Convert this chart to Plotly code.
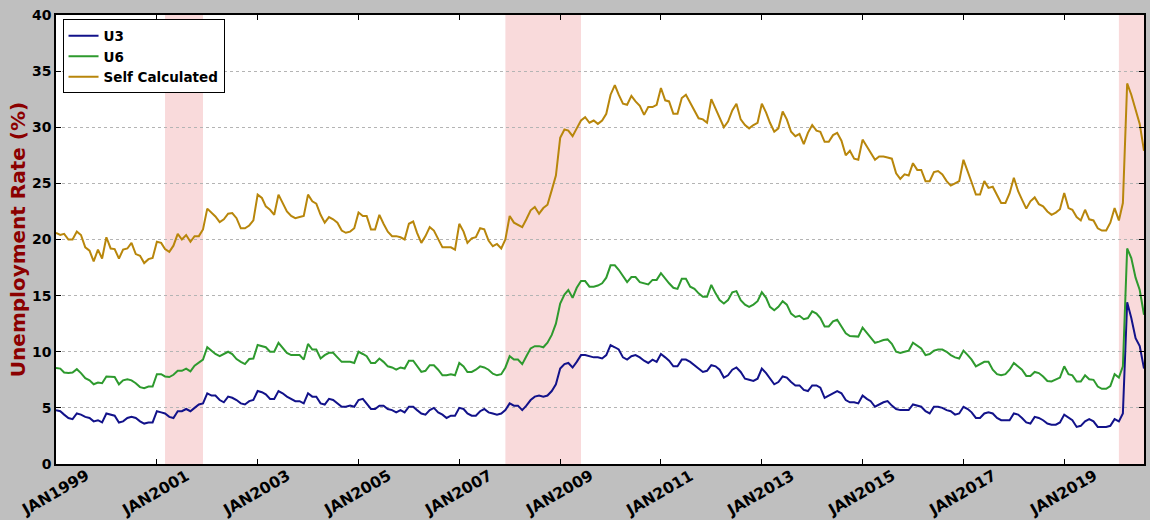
import pandas as pd
import plotly.graph_objects as go

# Monthly data, Jan 1999 - Aug 2020
start_month = "1999-01-01"
n_months = 260

u3 = [
    4.8, 4.7, 4.4, 4.1, 4.0, 4.5, 4.4, 4.2, 4.1, 3.8, 3.9, 3.7,
    4.5, 4.4, 4.3, 3.7, 3.8, 4.1, 4.2, 4.1, 3.8, 3.6, 3.7, 3.7,
    4.7, 4.6, 4.5, 4.2, 4.1, 4.7, 4.7, 4.9, 4.7, 5.0, 5.3, 5.4,
    6.3, 6.1, 6.1, 5.7, 5.5, 6.0, 5.9, 5.7, 5.4, 5.3, 5.6, 5.7,
    6.5, 6.4, 6.2, 5.8, 5.8, 6.5, 6.3, 6.0, 5.8, 5.6, 5.6, 5.4,
    6.3, 6.0, 6.0, 5.4, 5.3, 5.8, 5.7, 5.4, 5.1, 5.1, 5.2, 5.1,
    5.7, 5.8, 5.4, 4.9, 4.9, 5.2, 5.2, 4.9, 4.8, 4.6, 4.8, 4.6,
    5.1, 5.1, 4.8, 4.5, 4.4, 4.8, 5.0, 4.6, 4.4, 4.1, 4.3, 4.3,
    5.0, 4.9, 4.5, 4.3, 4.3, 4.7, 4.9, 4.6, 4.5, 4.4, 4.5, 4.8,
    5.4, 5.2, 5.2, 4.8, 5.2, 5.7, 6.0, 6.1, 6.0, 6.1, 6.5, 7.1,
    8.5, 8.9, 9.0, 8.6, 9.1, 9.7, 9.7, 9.6, 9.5, 9.5, 9.4, 9.7,
    10.6, 10.4, 10.2, 9.5, 9.3, 9.6, 9.7, 9.5, 9.2, 9.0, 9.3, 9.1,
    9.8, 9.5, 9.2, 8.7, 8.7, 9.3, 9.3, 9.1, 8.8, 8.5, 8.2, 8.3,
    8.8, 8.7, 8.4, 7.7, 7.9, 8.4, 8.6, 8.2, 7.6, 7.5, 7.4, 7.6,
    8.5, 8.1, 7.6, 7.1, 7.3, 7.8, 7.7, 7.3, 7.0, 7.0, 6.6, 6.5,
    7.0, 7.0, 6.8, 5.9, 6.1, 6.3, 6.5, 6.3, 5.7, 5.5, 5.5, 5.4,
    6.1, 5.8, 5.6, 5.1, 5.3, 5.5, 5.6, 5.2, 4.9, 4.8, 4.8, 4.8,
    5.3, 5.2, 5.1, 4.7, 4.5, 5.1, 5.1, 5.0, 4.8, 4.7, 4.4, 4.5,
    5.1, 4.9, 4.6, 4.1, 4.1, 4.5, 4.6, 4.5, 4.1, 3.9, 3.9, 3.9,
    4.5, 4.4, 4.1, 3.7, 3.6, 4.2, 4.1, 3.9, 3.6, 3.5, 3.5, 3.7,
    4.4, 4.1, 3.9, 3.3, 3.4, 3.8, 4.0, 3.8, 3.3, 3.3, 3.3, 3.4,
    4.0, 3.8, 4.5, 14.4, 13.0, 11.2, 10.5, 8.5,
]

u6 = [
    8.55, 8.5, 8.15, 8.1, 8.15, 8.45, 8.1, 7.65, 7.45, 7.1, 7.25, 7.2,
    7.8, 7.75, 7.75, 7.1, 7.45, 7.55, 7.45, 7.2, 6.85, 6.75, 6.9, 6.9,
    8.0, 8.0, 7.8, 7.75, 7.95, 8.3, 8.3, 8.5, 8.25, 8.75, 9.05, 9.3,
    10.4, 10.1, 9.8, 9.6, 9.8, 10.0, 9.8, 9.35, 9.1, 8.9, 9.35, 9.4,
    10.6, 10.5, 10.4, 10.0, 10.0, 10.8, 10.4, 9.9, 9.7, 9.7, 9.7, 9.3,
    10.7, 10.2, 10.2, 9.4, 9.7, 9.9, 9.9, 9.5, 9.1, 9.1, 9.1, 9.0,
    10.0, 9.8, 9.6, 9.0, 9.0, 9.4, 9.1, 8.7, 8.6, 8.4, 8.6, 8.5,
    9.2, 9.2, 8.7, 8.2, 8.3, 8.8, 8.8, 8.4, 7.9, 7.9, 8.0, 7.9,
    9.0, 8.7, 8.2, 8.2, 8.4, 8.7, 8.6, 8.4, 8.05, 7.9, 8.0, 8.6,
    9.6, 9.3, 9.3, 8.9, 9.6, 10.3, 10.5, 10.5, 10.4, 10.8, 11.5, 12.5,
    14.3, 15.1, 15.5, 14.8, 15.7, 16.3, 16.3, 15.8, 15.8, 15.9, 16.1, 16.6,
    17.7, 17.7, 17.3, 16.7, 16.2, 16.65, 16.65, 16.2, 16.1, 16.0, 16.4, 16.4,
    17.0, 16.5, 16.1, 15.7, 15.6, 16.5, 16.5, 15.8, 15.6, 15.2, 14.9, 14.9,
    15.95, 15.2, 14.6, 14.3, 14.6, 15.3, 15.4, 14.6, 14.2, 14.0, 14.2, 14.5,
    15.3, 14.8, 14.0, 13.7, 14.0, 14.5, 14.2, 13.4, 13.1, 13.2, 12.9, 13.0,
    13.6, 13.4, 13.0, 12.25, 12.25, 12.7, 12.85, 12.25, 11.65, 11.4, 11.4, 11.35,
    12.15, 11.7, 11.2, 10.8, 10.9, 11.05, 11.1, 10.7, 10.0, 9.9, 10.0, 10.1,
    10.8, 10.5, 10.3, 9.7, 9.8, 10.1, 10.2, 10.2, 10.0, 9.7, 9.5, 9.4,
    10.1, 9.7, 9.3, 8.7, 8.9, 9.1, 9.1, 8.4, 8.0, 7.9, 8.0, 8.4,
    9.0, 8.7, 8.4, 7.85, 7.85, 8.2, 8.1, 7.8, 7.4, 7.35, 7.55, 7.7,
    8.7, 8.0, 7.9, 7.35, 7.35, 7.9, 7.55, 7.5, 6.9, 6.7, 6.7, 6.95,
    8.0, 7.7, 8.7, 19.2, 18.35, 16.6, 15.5, 13.3,
]

self_calc = [
    20.6, 20.4, 20.5, 20.0, 20.0, 20.7, 20.4, 19.3, 19.0, 18.05, 19.1, 18.3,
    20.2, 19.2, 19.15, 18.3, 19.1, 19.2, 19.7, 18.7, 18.55, 17.9, 18.25, 18.35,
    19.8, 19.7, 19.15, 18.9, 19.45, 20.5, 20.0, 20.4, 19.8, 20.3, 20.3, 20.9,
    22.75, 22.4, 22.05, 21.55, 21.8, 22.3, 22.35, 21.9, 21.0, 21.0, 21.25, 21.7,
    24.0, 23.7, 22.95, 22.65, 22.2, 24.0, 23.3, 22.5, 22.1, 21.9, 22.0, 22.1,
    24.0, 23.4, 23.2, 22.2, 21.5, 22.0, 21.8, 21.5, 20.8, 20.6, 20.7, 21.0,
    22.4, 22.1, 22.1, 20.9, 20.9, 22.2, 21.4, 20.7, 20.3, 20.3, 20.2, 20.0,
    21.4, 21.6, 20.6, 19.7, 20.3, 21.1, 20.8, 20.1, 19.3, 19.3, 19.3, 19.1,
    21.4, 20.7, 19.7, 20.1, 20.2, 21.0, 20.9, 19.9, 19.4, 19.6, 19.2, 20.0,
    22.1, 21.5, 21.3, 21.1, 21.8, 22.6, 22.9, 22.3, 22.8, 23.1, 24.4, 25.7,
    29.05, 29.8, 29.7, 29.2, 29.9, 30.6, 30.9, 30.4, 30.6, 30.3, 30.6, 31.2,
    32.9, 33.75, 32.9, 32.1, 32.0, 32.8, 32.3, 31.9, 31.1, 31.8, 31.8, 32.0,
    33.5, 32.4, 32.3, 31.2, 31.2, 32.6, 32.9, 32.2, 31.6, 30.8, 30.7, 30.4,
    32.5, 31.7, 30.8, 30.0, 30.5, 31.5, 32.1, 30.7, 30.2, 29.9, 30.2, 30.4,
    32.1, 31.3, 30.4, 29.6, 29.9, 31.4, 30.7, 29.6, 29.2, 29.4, 28.5, 29.5,
    30.2, 29.7, 29.6, 28.7, 28.7, 29.3, 29.5, 28.8, 27.5, 27.9, 27.2, 27.1,
    28.9, 28.3, 27.7, 27.1, 27.4, 27.4, 27.3, 27.2, 25.9, 25.4, 25.8, 25.7,
    26.8, 26.2, 26.2, 25.2, 25.2, 26.0, 26.1, 25.8, 25.2, 24.8, 25.0, 25.2,
    27.1, 26.1, 25.1, 24.0, 24.0, 25.2, 24.6, 24.7, 23.9, 23.25, 23.25, 24.1,
    25.5, 24.3, 23.55, 22.75, 23.4, 23.75, 23.15, 22.95, 22.5, 22.2, 22.4, 22.7,
    24.15, 22.8, 22.65, 22.0, 21.7, 22.65, 21.8, 21.7, 21.0, 20.8, 20.8, 21.5,
    22.8, 21.7, 23.25, 33.9, 32.9, 31.6, 30.3, 27.9,
]

recessions = [
    ("2001-03-01", "2001-12-01"),
    ("2007-12-01", "2009-06-01"),
    ("2020-02-01", "2020-08-01"),
]

tick_dates = ["%d-01-01" % y for y in range(1999, 2020, 2)]
tick_labels = ["JAN%d" % y for y in range(1999, 2020, 2)]

series_names = ["U3", "U6", "Self Calculated"]
series_colors = ["#12128a", "#2e9a2e", "#b8860b"]

assert len(u3) == n_months and len(u6) == n_months and len(self_calc) == n_months
dates = pd.date_range(start_month, periods=n_months, freq="MS")

fig = go.Figure()
for name, vals, col in zip(series_names, [u3, u6, self_calc], series_colors):
    fig.add_trace(go.Scatter(x=dates, y=vals, mode="lines", name=name,
                             line=dict(color=col, width=2)))

for x0, x1 in recessions:
    fig.add_shape(type="rect", xref="x", yref="paper", x0=x0, x1=x1, y0=0, y1=1,
                  fillcolor="#f9dadb", line=dict(width=0), layer="below")

for d, lab in zip(tick_dates, tick_labels):
    fig.add_annotation(x=d, xref="x", y=0, yref="paper", yshift=-29, xshift=-1,
                       text=lab, showarrow=False, textangle=-30,
                       xanchor="center", yanchor="middle",
                       font=dict(family="DejaVu Sans", size=15.5, color="black", weight="bold"))

fig.update_layout(
    width=1150, height=520,
    margin=dict(l=56, r=6, t=15, b=56),
    paper_bgcolor="#bfbfbf",
    plot_bgcolor="white",
    font=dict(family="DejaVu Sans", color="black"),
    legend=dict(x=0.006, y=0.99, xanchor="left", yanchor="top",
                bgcolor="white", bordercolor="black", borderwidth=1,
                font=dict(family="DejaVu Sans", size=13.5, color="black", weight="bold"),
                itemwidth=30, tracegroupgap=0),
    showlegend=True,
)
fig.update_xaxes(
    range=[dates[0], dates[-1]], showgrid=False, zeroline=False,
    showline=True, linecolor="black", linewidth=1.5, mirror="ticks",
    ticks="inside", ticklen=5, tickcolor="black",
    tickvals=tick_dates, showticklabels=False,
)
fig.update_yaxes(
    range=[0, 40], dtick=5, showgrid=True, gridcolor="#b4b4b4", griddash="dot", gridwidth=1,
    zeroline=False, showline=True, linecolor="black", linewidth=1.5, mirror="ticks",
    ticks="inside", ticklen=5, tickcolor="black",
    tickfont=dict(family="DejaVu Sans", size=14, color="black", weight="bold"),
    title=dict(text="Unemployment Rate (%)", standoff=1,
               font=dict(family="DejaVu Sans", size=20, color="#8b0000", weight="bold")),
    automargin=False,
)

fig.write_html("out.html",
               config={"displayModeBar": False},
               post_script="document.body.style.margin='0px';"
                           "document.body.style.background='#bfbfbf';")
